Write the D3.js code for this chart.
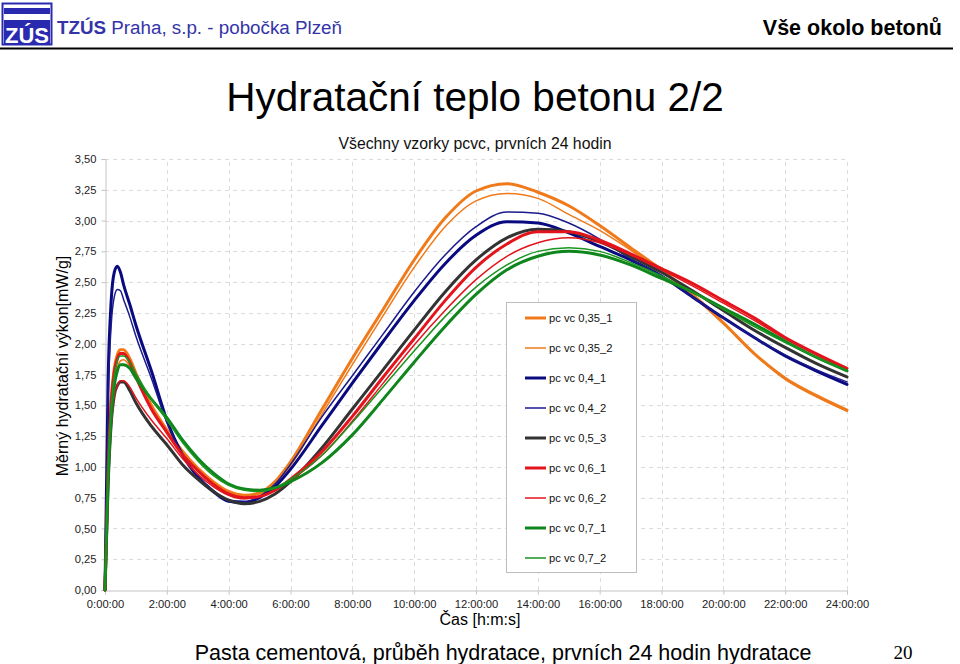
<!DOCTYPE html>
<html><head><meta charset="utf-8">
<script src="https://cdn.jsdelivr.net/npm/d3@7"></script>
<style>
html,body{margin:0;padding:0;background:#fff;}
svg{display:block;font-family:"Liberation Sans",Arial,Helvetica,sans-serif;}
</style></head><body>
<svg id="c" width="960" height="664"></svg>
<script>
// ---- data ----
const hours = [0,0.1,0.2,0.3,0.4,0.5,0.6,0.8,1,1.5,2,2.5,3,3.5,4,4.5,5,5.5,6,7,8,9,10,11,12,13,14,15,16,17,18,19,20,21,22,23,24];
const seriesNames = ["pc vc 0,35_1","pc vc 0,35_2","pc vc 0,4_1","pc vc 0,4_2","pc vc 0,5_3","pc vc 0,6_1","pc vc 0,6_2","pc vc 0,7_1","pc vc 0,7_2"];
const pc035_1 = [0,1.05,1.55,1.80,1.91,1.95,1.95,1.88,1.76,1.50,1.30,1.13,0.99,0.88,0.80,0.77,0.79,0.88,1.04,1.46,1.88,2.28,2.68,3.02,3.24,3.30,3.23,3.12,2.96,2.78,2.60,2.40,2.17,1.92,1.72,1.58,1.46];
const pc035_2 = [0,0.95,1.45,1.70,1.81,1.86,1.87,1.82,1.72,1.48,1.29,1.12,0.98,0.87,0.79,0.76,0.78,0.86,1.01,1.42,1.83,2.23,2.62,2.95,3.16,3.22,3.18,3.05,2.92,2.76,2.59,2.39,2.16,1.92,1.71,1.57,1.45];
const pc04_1 = [0,1.70,2.35,2.58,2.63,2.58,2.48,2.32,2.15,1.78,1.38,1.10,0.92,0.80,0.72,0.71,0.75,0.84,0.98,1.33,1.68,2.02,2.35,2.65,2.88,2.99,2.98,2.90,2.79,2.68,2.55,2.38,2.21,2.05,1.90,1.78,1.67];
const pc04_2 = [0,1.55,2.15,2.38,2.44,2.43,2.36,2.22,2.06,1.72,1.36,1.10,0.93,0.81,0.73,0.72,0.76,0.86,1.02,1.40,1.74,2.08,2.42,2.72,2.95,3.07,3.06,2.98,2.85,2.69,2.55,2.38,2.21,2.05,1.91,1.79,1.69];
const pc05_3 = [0,0.85,1.35,1.58,1.66,1.69,1.69,1.62,1.52,1.33,1.18,1.02,0.90,0.80,0.73,0.70,0.72,0.78,0.88,1.15,1.47,1.79,2.11,2.42,2.68,2.86,2.93,2.91,2.83,2.71,2.58,2.43,2.27,2.11,1.97,1.84,1.73];
const pc06_1 = [0,1.00,1.52,1.77,1.88,1.92,1.92,1.85,1.73,1.47,1.28,1.10,0.97,0.86,0.78,0.75,0.76,0.81,0.90,1.12,1.41,1.73,2.04,2.35,2.62,2.81,2.91,2.91,2.84,2.73,2.61,2.49,2.35,2.21,2.05,1.92,1.80];
const pc06_2 = [0,0.85,1.33,1.57,1.66,1.70,1.70,1.65,1.56,1.38,1.23,1.07,0.94,0.84,0.77,0.74,0.76,0.81,0.89,1.09,1.37,1.68,1.99,2.27,2.52,2.71,2.82,2.86,2.82,2.72,2.60,2.47,2.33,2.19,2.04,1.91,1.79];
const pc07_1 = [0,0.90,1.40,1.66,1.78,1.83,1.83,1.80,1.72,1.55,1.40,1.22,1.07,0.95,0.86,0.82,0.81,0.83,0.88,1.03,1.26,1.55,1.85,2.14,2.40,2.60,2.71,2.75,2.72,2.64,2.53,2.42,2.29,2.16,2.02,1.89,1.78];
const pc07_2 = [0,0.95,1.48,1.74,1.86,1.90,1.90,1.85,1.76,1.55,1.38,1.20,1.05,0.93,0.85,0.81,0.80,0.83,0.90,1.09,1.36,1.65,1.94,2.22,2.46,2.64,2.75,2.78,2.75,2.66,2.55,2.42,2.28,2.14,2.01,1.89,1.78];
const xTickValues = [0,2,4,6,8,10,12,14,16,18,20,22,24];
const xTickLabels = ["0:00:00","2:00:00","4:00:00","6:00:00","8:00:00","10:00:00","12:00:00","14:00:00","16:00:00","18:00:00","20:00:00","22:00:00","24:00:00"];
const yTickValues = [0,0.25,0.5,0.75,1,1.25,1.5,1.75,2,2.25,2.5,2.75,3,3.25,3.5];
const yTickLabels = ["0,00","0,25","0,50","0,75","1,00","1,25","1,50","1,75","2,00","2,25","2,50","2,75","3,00","3,25","3,50"];

const seriesValues = [pc035_1,pc035_2,pc04_1,pc04_2,pc05_3,pc06_1,pc06_2,pc07_1,pc07_2];
const colors = ["#f07a1a","#f07a1a","#0a0a80","#1a1a8c","#333333","#e3141c","#e3141c","#0e861c","#1a951f"];
const widths = [3,1.5,3,1.5,3,3,1.5,3,1.5];

const svg = d3.select("#c");

// ---- header ----
const hdr = svg.append("g");
hdr.append("rect").attr("x",2.5).attr("y",3.5).attr("width",49).attr("height",41).attr("fill","#fff").attr("stroke","#2a2ab0").attr("stroke-width",2);
hdr.append("rect").attr("x",4).attr("y",8).attr("width",46).attr("height",6).attr("fill","#2a2ab0");
hdr.append("rect").attr("x",4).attr("y",20).attr("width",46).attr("height",24).attr("fill","#2a2ab0");
hdr.append("text").attr("x",27).attr("y",43).attr("text-anchor","middle").attr("fill","#fff").attr("font-weight","bold").attr("font-size",22).attr("textLength",44).attr("lengthAdjust","spacingAndGlyphs").text("ZÚS");
const t1 = hdr.append("text").attr("x",57).attr("y",34).attr("fill","#3434a8").attr("font-size",18.8);
t1.append("tspan").attr("font-weight","bold").text("TZÚS");
t1.append("tspan").text(" Praha, s.p. - pobočka Plzeň");
hdr.append("text").attr("x",942).attr("y",35).attr("text-anchor","end").attr("font-weight","bold").attr("font-size",21.5).attr("fill","#000").text("Vše okolo betonů");
hdr.append("line").attr("x1",0).attr("x2",953).attr("y1",48.5).attr("y2",48.5).attr("stroke","#000").attr("stroke-width",2);

// ---- titles ----
svg.append("text").attr("x",475).attr("y",111).attr("text-anchor","middle").attr("font-size",40.5).attr("fill","#000").text("Hydratační teplo betonu 2/2");
svg.append("text").attr("x",475).attr("y",149).attr("text-anchor","middle").attr("font-size",15.8).attr("fill","#111").text("Všechny vzorky pcvc, prvních 24 hodin");

// ---- scales ----
const x = d3.scaleLinear().domain([0,24]).range([105,847]);
const y = d3.scaleLinear().domain([0,3.5]).range([590,159]);

// grid
const grid = svg.append("g");
grid.selectAll("line.h").data(yTickValues.filter(v=>v>0)).enter().append("line")
  .attr("x1",x(0)).attr("x2",x(24)).attr("y1",d=>Math.round(y(d))+0.5).attr("y2",d=>Math.round(y(d))+0.5)
  .attr("stroke","#dcdcdc").attr("stroke-dasharray","4,4");
grid.selectAll("line.v").data(xTickValues.filter(v=>v>0)).enter().append("line")
  .attr("x1",d=>Math.round(x(d))+0.5).attr("x2",d=>Math.round(x(d))+0.5).attr("y1",y(0)).attr("y2",y(3.5))
  .attr("stroke","#dcdcdc").attr("stroke-dasharray","4,4");

// axes
const xAxis = d3.axisBottom(x).tickValues(xTickValues).tickFormat((d,i)=>xTickLabels[i]).tickSize(4).tickPadding(6);
const gx = svg.append("g").attr("transform","translate(0,590.5)").call(xAxis);
const yAxis = d3.axisLeft(y).tickValues(yTickValues).tickFormat((d,i)=>yTickLabels[i]).tickSize(4).tickPadding(5);
const gy = svg.append("g").attr("transform","translate(105.5,0)").call(yAxis);
[gx,gy].forEach(g=>{
  g.select(".domain").attr("stroke","#c4c4c4");
  g.selectAll(".tick line").attr("stroke","#c4c4c4");
  g.selectAll(".tick text").attr("font-family","'Liberation Sans',Arial,sans-serif").attr("font-size",11.2).attr("fill","#222");
});

// axis titles
svg.append("text").attr("transform","translate(68,366) rotate(-90)").attr("text-anchor","middle").attr("font-size",16).attr("fill","#000").text("Měrný hydratační výkon[mW/g]");
svg.append("text").attr("x",480).attr("y",625).attr("text-anchor","middle").attr("font-size",16).attr("fill","#000").text("Čas [h:m:s]");

// ---- lines ----
const line = d3.line().x(d=>x(d[0])).y(d=>y(d[1])).curve(d3.curveMonotoneX);
const lg = svg.append("g");
seriesValues.forEach((vals,i)=>{
  lg.append("path").datum(hours.map((h,j)=>[h,vals[j]]))
    .attr("d",line).attr("fill","none").attr("stroke",colors[i]).attr("stroke-width",widths[i])
    .attr("stroke-linejoin","round").attr("stroke-linecap","round");
});

// ---- legend ----
const leg = svg.append("g");
leg.append("rect").attr("x",506.5).attr("y",302.5).attr("width",130).attr("height",270).attr("fill","#fff").attr("stroke","#bdbdbd");
seriesNames.forEach((n,i)=>{
  const yy = 318 + i*30;
  leg.append("line").attr("x1",525).attr("x2",546).attr("y1",yy).attr("y2",yy).attr("stroke",colors[i]).attr("stroke-width",widths[i]);
  leg.append("text").attr("x",549).attr("y",yy+4).attr("font-size",11.2).attr("fill","#111").text(n);
});

// ---- footer ----
svg.append("text").attr("x",503).attr("y",660).attr("text-anchor","middle").attr("font-size",21.5).attr("fill","#000").text("Pasta cementová, průběh hydratace, prvních 24 hodin hydratace");
svg.append("text").attr("x",903).attr("y",659).attr("text-anchor","middle").attr("font-family","'Liberation Serif','Times New Roman',serif").attr("font-size",19).attr("fill","#000").text("20");
</script>
</body></html>
